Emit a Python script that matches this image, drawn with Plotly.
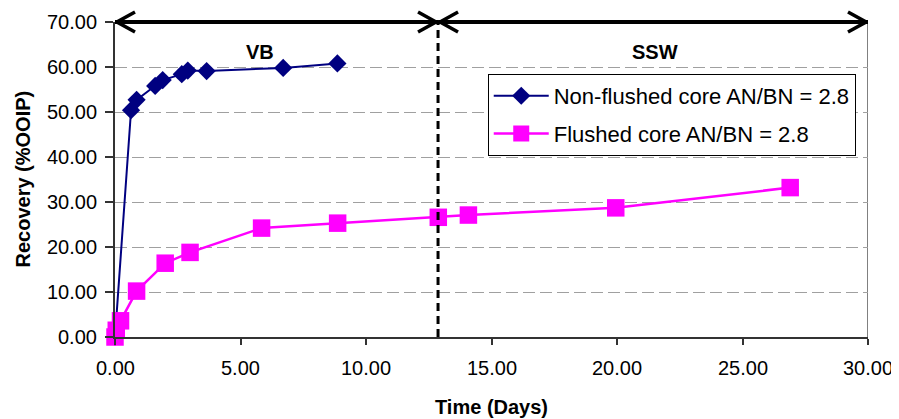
import plotly.graph_objects as go

# Data
nf_time = [0.0, 0.64, 0.86, 1.6, 1.9, 2.66, 2.9, 3.65, 6.7, 8.86]
nf_recovery = [0.0, 50.4, 52.7, 55.8, 57.1, 58.4, 59.2, 59.1, 59.8, 60.8]
fl_time = [0.0, 0.05, 0.22, 0.86, 2.0, 2.99, 5.84, 8.87, 12.88, 14.08, 19.95, 26.9]
fl_recovery = [0.0, 1.5, 3.6, 10.2, 16.4, 18.8, 24.2, 25.3, 26.6, 27.1, 28.7, 33.2]
x_ticks = [0, 5, 10, 15, 20, 25, 30]
y_ticks = [0, 10, 20, 30, 40, 50, 60, 70]
x_tick_labels = ["0.00", "5.00", "10.00", "15.00", "20.00", "25.00", "30.00"]
y_tick_labels = ["0.00", "10.00", "20.00", "30.00", "40.00", "50.00", "60.00", "70.00"]
switch_time = 12.87
arrow_level = 70
x_max = 30
phase_labels = ["VB", "SSW"]
phase_label_x = [5.78, 21.5]
phase_label_y = 63.3
x_title = "Time (Days)"
y_title = "Recovery (%OOIP)"

FONT = "Arial, Liberation Sans, sans-serif"

fig = go.Figure()
fig.add_trace(go.Scatter(
    x=nf_time, y=nf_recovery, mode="lines+markers",
    name="Non-flushed core AN/BN = 2.8",
    line=dict(color="#000080", width=2),
    marker=dict(symbol="diamond", size=14, color="#000080"),
    cliponaxis=False, legendgroup="a",
))
fig.add_trace(go.Scatter(
    x=fl_time, y=fl_recovery, mode="lines+markers",
    name="Flushed core AN/BN = 2.8",
    line=dict(color="#ff00ff", width=2.5),
    marker=dict(symbol="square", size=17.5, color="#ff00ff"),
    cliponaxis=False, legendgroup="b",
))

shapes = []
# right border
shapes.append(dict(type="line", xref="x", yref="y", x0=x_max, x1=x_max, y0=0, y1=arrow_level,
                   line=dict(color="#808080", width=2), layer="below"))
# vertical dashed switch line
shapes.append(dict(type="line", xref="x", yref="y", x0=switch_time, x1=switch_time, y0=0, y1=arrow_level,
                   line=dict(color="black", width=3, dash="8px,5px")))
# horizontal double arrows at the top of the plot
for a, b in [(0, switch_time), (switch_time, x_max)]:
    shapes.append(dict(type="line", xref="x", yref="paper", x0=a, x1=b, y0=1, y1=1,
                       line=dict(color="black", width=4)))
    for anchor, d in [(a, 1), (b, -1)]:
        shapes.append(dict(type="path", xref="x", yref="paper", xsizemode="pixel", ysizemode="pixel",
                           xanchor=anchor, yanchor=1,
                           path=f"M {d*20},10 L {d*2},0 L {d*20},-10",
                           line=dict(color="black", width=3.5)))

annotations = []
for lab, lx in zip(phase_labels, phase_label_x):
    annotations.append(dict(x=lx, y=phase_label_y, xref="x", yref="y", text=f"<b>{lab}</b>",
                            showarrow=False, font=dict(family=FONT, size=20, color="black")))
# tick labels
for tv, tl in zip(x_ticks, x_tick_labels):
    annotations.append(dict(x=tv, y=0, xref="x", yref="paper", text=tl, showarrow=False,
                            xanchor="center", yanchor="middle", yshift=-31,
                            font=dict(family=FONT, size=20, color="black")))
for tv, tl in zip(y_ticks, y_tick_labels):
    annotations.append(dict(x=0, y=tv, xref="paper", yref="y", text=tl, showarrow=False,
                            xanchor="right", yanchor="middle", xshift=-16,
                            font=dict(family=FONT, size=20, color="black")))
# axis titles
annotations.append(dict(x=0.5, y=-0.222, xref="paper", yref="paper", text=f"<b>{x_title}</b>",
                        showarrow=False, xanchor="center", yanchor="middle",
                        font=dict(family=FONT, size=20, color="black")))
annotations.append(dict(x=-0.1235, y=0.5, xref="paper", yref="paper", text=f"<b>{y_title}</b>",
                        showarrow=False, xanchor="center", yanchor="middle", textangle=-90,
                        font=dict(family=FONT, size=20, color="black")))

fig.update_layout(
    width=891, height=411,
    margin=dict(l=107, r=31, t=14, b=82),
    paper_bgcolor="white", plot_bgcolor="white",
    font=dict(family=FONT, size=20, color="black"),
    shapes=shapes, annotations=annotations,
    legend=dict(x=0.495, y=0.835, xanchor="left", yanchor="top",
                bordercolor="black", borderwidth=1, bgcolor="white",
                font=dict(family=FONT, size=22, color="black"),
                itemwidth=55, tracegroupgap=6),
    xaxis=dict(range=[0, x_max], tickvals=x_ticks, showticklabels=False,
               showgrid=False, zeroline=False, showline=True, linecolor="#333333", linewidth=2,
               ticks="outside", ticklen=6, tickwidth=1.5, tickcolor="#333333", automargin=False),
    yaxis=dict(range=[0, arrow_level], tickvals=y_ticks, showticklabels=False,
               showgrid=True, gridcolor="#a0a0a0", gridwidth=1, griddash="12px,5px",
               zeroline=False, showline=True, linecolor="#333333", linewidth=2,
               ticks="outside", ticklen=8, tickwidth=1.5, tickcolor="#333333", automargin=False),
)

fig.write_html("out.html")
